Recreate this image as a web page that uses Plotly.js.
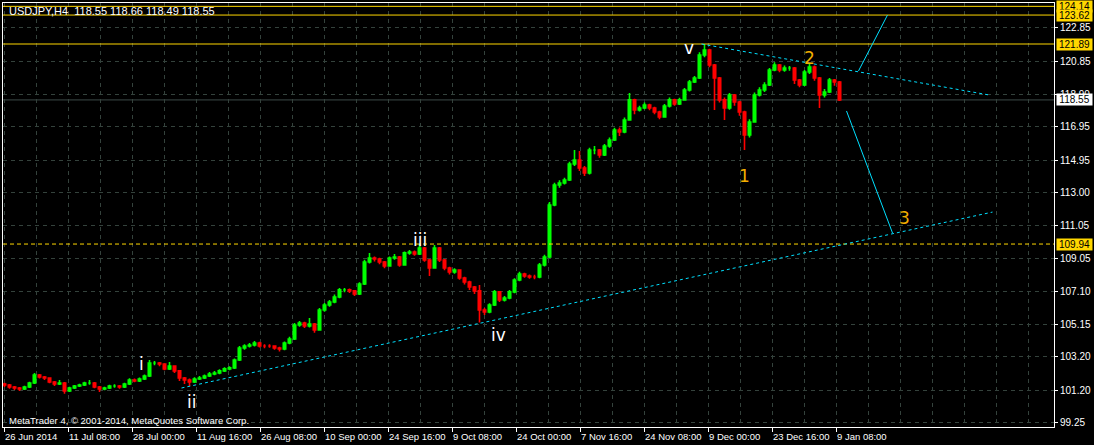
<!DOCTYPE html>
<html>
<head>
<meta charset="utf-8">
<script src="https://cdn.plot.ly/plotly-3.0.1.min.js"></script>
<style>
html,body{margin:0;padding:0;background:#000;}
#chart{width:1094px;height:445px;}
</style>
</head>
<body>
<div id="chart"></div>
<script>
// ---- data (H4 bars, one candle per 5 bars) ----
const bars = [0,5,10,15,20,25,30,35,40,45,50,55,60,65,70,75,80,85,90,95,
100,105,110,115,120,125,130,135,140,145,150,155,160,165,170,175,180,185,190,195,
200,205,210,215,220,225,230,235,240,245,250,255,260,265,270,275,280,285,290,295,
300,305,310,315,320,325,330,335,340,345,350,355,360,365,370,375,380,385,390,395,
400,405,410,415,420,425,430,435,440,445,450,455,460,465,470,475,480,485,490,495,
500,505,510,515,520,525,530,535,540,545,550,555,560,565,570,575,580,585,590,595,
600,605,610,615,620,625,630,635,640,645,650,655,660,665,670,675,680,685,690,695,
700,705,710,715,720,725,730,735,740,745,750,755,760,765,770,775,780,785,790,795,
800,805,810,815,820,825,830,835];

const closes = [101.52,101.40,101.34,101.28,101.40,101.64,102.12,102.00,101.94,101.70,
101.58,101.64,101.16,101.34,101.46,101.52,101.64,101.64,101.40,101.28,
101.34,101.46,101.46,101.40,101.58,101.82,101.76,101.88,102.06,102.83,
102.83,102.77,102.48,102.65,102.36,101.94,101.82,101.70,101.88,101.94,
102.06,102.18,102.24,102.36,102.48,102.54,103.01,103.73,103.85,103.91,
104.03,103.85,103.85,103.85,103.73,103.67,104.03,104.27,105.10,105.22,
105.04,105.16,104.81,106.00,106.30,106.48,106.78,107.20,107.20,107.14,
106.96,107.55,108.87,109.11,109.05,108.87,108.63,109.11,109.17,108.69,
109.41,109.46,109.35,109.70,108.99,108.51,109.70,108.99,108.51,108.27,
108.39,107.91,107.67,107.37,107.14,106.00,105.88,106.30,107.08,106.60,
106.72,107.08,107.79,108.15,108.03,107.97,107.97,108.69,109.17,112.27,
113.47,113.59,113.77,114.72,114.96,114.48,114.18,115.56,115.56,115.26,
115.80,116.16,116.75,116.63,117.35,118.55,117.95,118.07,118.25,118.07,
117.83,117.53,118.19,118.55,118.31,118.55,119.14,119.62,119.86,121.23,
121.53,120.64,119.86,118.55,118.07,118.84,118.43,117.83,116.45,117.23,
118.84,119.14,119.44,120.34,120.64,120.34,120.46,120.46,119.74,119.44,
120.22,120.52,119.86,118.84,119.02,119.74,119.62,118.55];

const opens = [101.58,101.52,101.40,101.34,101.28,101.40,101.64,102.12,102.00,101.94,
101.70,101.58,101.64,101.16,101.34,101.46,101.52,101.64,101.64,101.40,
101.28,101.34,101.46,101.46,101.40,101.58,101.82,101.76,101.88,102.06,
102.83,102.83,102.77,102.48,102.65,102.36,101.94,101.82,101.70,101.88,
101.94,102.06,102.18,102.24,102.36,102.48,102.54,103.01,103.73,103.85,
103.91,104.03,103.85,103.85,103.85,103.73,103.67,104.03,104.27,105.10,
105.22,105.04,105.16,104.81,106.00,106.30,106.48,106.78,107.20,107.20,
107.14,106.96,107.55,108.87,109.11,109.05,108.87,108.63,109.11,109.17,
108.69,109.41,109.46,109.35,109.70,108.99,108.51,109.70,108.99,108.51,
108.27,108.39,107.91,107.67,107.37,107.14,106.00,105.88,106.30,107.08,
106.60,106.72,107.08,107.79,108.15,108.03,107.97,107.97,108.69,109.17,
112.27,113.47,113.59,113.77,114.72,114.96,114.48,114.18,115.56,115.56,
115.26,115.80,116.16,116.75,116.63,117.35,118.55,117.95,118.07,118.25,
118.07,117.83,117.53,118.19,118.55,118.31,118.55,119.14,119.62,119.86,
121.23,121.53,120.64,119.86,118.55,118.07,118.84,118.43,117.83,116.45,
117.23,118.84,119.14,119.44,120.34,120.64,120.34,120.46,120.46,119.74,
119.44,120.22,120.52,119.86,118.84,119.02,119.74,119.62];

const highs = [101.66,101.58,101.46,101.40,101.48,101.72,102.24,102.18,102.06,101.98,
101.76,101.82,101.70,101.42,101.52,101.60,101.72,101.82,101.70,101.46,
101.42,101.54,101.56,101.52,101.66,101.92,101.90,101.96,102.14,103.01,
102.95,102.90,102.82,102.89,102.70,102.42,102.00,101.90,101.98,102.06,
102.14,102.30,102.36,102.46,102.58,102.64,103.10,103.85,103.95,104.03,
104.15,104.10,103.96,103.95,103.90,103.80,104.12,104.40,105.22,105.34,
105.30,105.52,105.22,106.12,106.42,106.60,106.92,107.32,107.32,107.28,
107.20,107.66,109.00,109.41,109.20,109.12,108.92,109.20,109.35,109.22,
109.50,109.58,109.55,109.94,109.76,109.04,109.88,109.76,109.04,108.58,
108.50,108.44,107.98,107.74,107.44,107.50,106.12,106.40,107.20,107.14,
106.84,107.20,107.90,108.28,108.22,108.12,108.10,108.80,109.30,112.45,
113.60,113.75,113.90,114.85,115.56,115.50,114.60,115.70,115.80,115.62,
115.92,116.30,116.88,116.90,117.50,118.96,118.62,118.20,118.40,118.32,
118.14,117.90,118.30,118.70,118.62,118.68,119.26,119.74,119.98,121.40,
121.89,121.60,120.70,119.92,118.70,118.96,118.90,118.50,117.90,117.40,
119.00,119.30,119.60,120.46,120.80,120.70,120.60,120.58,120.52,119.80,
120.34,120.76,120.60,119.92,119.20,119.86,119.80,119.68];

const lows = [101.40,101.30,101.22,101.16,101.22,101.34,101.58,101.90,101.82,101.62,
101.46,101.52,101.00,101.10,101.28,101.40,101.46,101.54,101.32,101.10,
101.20,101.28,101.36,101.30,101.34,101.52,101.68,101.70,101.82,102.00,
102.70,102.64,102.40,102.42,102.24,101.76,101.58,101.46,101.64,101.82,
101.88,102.00,102.10,102.16,102.30,102.40,102.48,102.95,103.62,103.76,
103.82,103.76,103.72,103.74,103.62,103.52,103.60,103.96,104.20,105.00,
104.92,104.96,104.64,104.76,105.90,106.20,106.40,106.70,107.06,107.02,
106.84,106.90,107.50,108.78,108.90,108.74,108.50,108.58,109.00,108.58,
108.64,109.30,109.24,109.28,108.88,108.03,108.46,108.86,108.38,108.12,
108.16,107.80,107.52,107.20,106.96,105.25,105.70,105.80,106.24,106.48,
106.50,106.64,107.00,107.72,107.92,107.86,107.84,107.90,108.60,109.10,
112.20,113.30,113.50,113.70,114.60,114.30,114.00,114.10,115.30,115.10,
115.20,115.70,116.10,116.40,116.56,117.30,117.70,117.86,118.00,117.94,
117.70,117.40,117.48,118.10,118.20,118.24,118.50,119.06,119.56,119.80,
121.10,120.50,117.95,118.40,117.35,117.96,118.20,117.60,115.56,116.30,
117.18,118.76,119.02,119.38,120.26,120.20,120.24,120.30,119.50,119.30,
119.38,120.10,119.70,118.07,118.70,118.96,119.40,118.49];

// x-axis labels (bar index of each label) and texts
const xLabelBars = [0,64,128,192,256,320,384,448,512,576,640,704,768,832];
const xLabels = ["26 Jun 2014","11 Jul 08:00","28 Jul 00:00","11 Aug 16:00","26 Aug 08:00",
  "10 Sep 00:00","24 Sep 16:00","9 Oct 08:00","24 Oct 00:00","7 Nov 16:00",
  "24 Nov 08:00","9 Dec 00:00","23 Dec 16:00","9 Jan 08:00"];
const xGridBars = [32,96,160,224,288,352,416,480,544,608,672,736,800,864,896,928,960,992,1024];

// y-axis ticks
const yTicks = [99.25,101.20,103.20,105.15,107.10,109.05,111.05,113.00,114.95,116.95,118.90,120.85,122.85];

// horizontal price levels
const goldLevels = [124.14,123.62,121.89];
const dashedLevel = 109.94;
const bidLevel = 118.55;

// trend / projection lines: [bar0, price0, bar1, price1]
const dottedLines = [[177,101.34,988,111.85],[697,121.89,985,118.84]];
const solidLines = [[854,120.28,883,123.62],[842,117.89,888,110.60]];

// wave labels
const waveText = ["i","ii","iii","iv","v"];
const waveBar = [137,187,415,494,684];
const wavePrice = [102.77,100.50,110.18,104.51,121.65];
const countText = ["1","2","3"];
const countBar = [740,805,900];
const countPrice = [114.01,121.05,111.50];

// ---- chart ----
const FONT = "Liberation Sans, Arial, sans-serif";
const GRID = "#34423c";
const GOLD = "#FFD700";
const CYAN = "#00E0FF";

const trace = {
  type: "candlestick",
  x: bars, open: opens, high: highs, low: lows, close: closes,
  increasing: {line: {color: "#00FF00", width: 1.6}, fillcolor: "#00FF00"},
  decreasing: {line: {color: "#FF0000", width: 1.6}, fillcolor: "#FF0000"},
  whiskerwidth: 0,
  hoverinfo: "skip",
  showlegend: false
};

const shapes = [];
shapes.push({type:"line", xref:"paper", x0:0, x1:1, yref:"y", y0:bidLevel, y1:bidLevel,
  line:{color:"#3c4a48", width:1}, layer:"below"});
goldLevels.forEach(v => shapes.push({type:"line", xref:"paper", x0:0, x1:1, yref:"y", y0:v, y1:v,
  line:{color:GOLD, width:1}}));
shapes.push({type:"line", xref:"paper", x0:0, x1:1, yref:"y", y0:dashedLevel, y1:dashedLevel,
  line:{color:GOLD, width:1, dash:"4px,3px"}});
dottedLines.forEach(l => shapes.push({type:"line", xref:"x", yref:"y", x0:l[0], y0:l[1], x1:l[2], y1:l[3],
  line:{color:CYAN, width:1, dash:"3px,3px"}}));
solidLines.forEach(l => shapes.push({type:"line", xref:"x", yref:"y", x0:l[0], y0:l[1], x1:l[2], y1:l[3],
  line:{color:CYAN, width:1}}));

const annotations = [];
annotations.push({xref:"paper", yref:"paper", x:0, y:1, xshift:4, yshift:-8, xanchor:"left", yanchor:"middle",
  text:"USDJPY,H4  118.55 118.66 118.49 118.55", showarrow:false, font:{family:FONT, size:11, color:"#ffffff"}});
annotations.push({xref:"paper", yref:"paper", x:0, y:0, xshift:4, yshift:7, xanchor:"left", yanchor:"middle",
  text:"MetaTrader 4, © 2001-2014, MetaQuotes Software Corp.", showarrow:false, font:{family:FONT, size:9.5, color:"#ffffff"}});
xLabelBars.forEach((b,i) => annotations.push({xref:"x", yref:"paper", x:b, y:0, yshift:-9, xanchor:"left", yanchor:"middle",
  xshift:-2, text:xLabels[i], showarrow:false, font:{family:FONT, size:9.5, color:"#ffffff"}}));
goldLevels.concat([dashedLevel]).forEach(v => annotations.push({xref:"paper", yref:"y", x:1, y:v, xanchor:"left", yanchor:"middle",
  xshift:2, text:v.toFixed(2), showarrow:false, bgcolor:GOLD, borderpad:0, width:35, height:11,
  font:{family:FONT, size:10, color:"#000000"}}));
annotations.push({xref:"paper", yref:"y", x:1, y:bidLevel, xanchor:"left", yanchor:"middle",
  xshift:2, text:bidLevel.toFixed(2), showarrow:false, bgcolor:"#ffffff", borderpad:0, width:35, height:11,
  font:{family:FONT, size:10, color:"#000000"}});
waveText.forEach((t,i) => annotations.push({xref:"x", yref:"y", x:waveBar[i], y:wavePrice[i], text:t, showarrow:false,
  xanchor:"center", yanchor:"middle", font:{family:"DejaVu Sans, sans-serif", size:17, color:"#ffffff"}}));
countText.forEach((t,i) => annotations.push({xref:"x", yref:"y", x:countBar[i], y:countPrice[i], text:t, showarrow:false,
  xanchor:"center", yanchor:"middle", font:{family:"DejaVu Sans, sans-serif", size:17, color:"#F2AE00"}}));

const layout = {
  width: 1094, height: 445,
  paper_bgcolor: "#000000", plot_bgcolor: "#000000",
  margin: {l:3, r:40, t:3, b:18},
  showlegend: false,
  xaxis: {
    range: [-1.5, 1049.5], rangeslider: {visible:false},
    showline: true, mirror: true, linecolor: "#ffffff", linewidth: 1,
    tickmode: "array", tickvals: xLabelBars, showticklabels: false,
    ticks: "outside", ticklen: 4, tickcolor: "#ffffff",
    showgrid: true, gridcolor: GRID, griddash: "4px,4px", gridwidth: 1,
    minor: {tickmode:"array", tickvals: xGridBars, showgrid: true, gridcolor: GRID, griddash: "4px,4px", ticks: ""},
    zeroline: false
  },
  yaxis: {
    range: [99.01, 124.34], side: "right",
    tickmode: "array", tickvals: yTicks, ticktext: yTicks.map(v => v.toFixed(2)),
    ticks: "outside", ticklen: 3, tickcolor: "#ffffff",
    tickfont: {family: FONT, size: 10, color: "#ffffff"},
    showgrid: true, gridcolor: GRID, griddash: "4px,4px", gridwidth: 1,
    showline: true, mirror: true, linecolor: "#ffffff", linewidth: 1,
    zeroline: false
  },
  shapes: shapes,
  annotations: annotations
};

Plotly.newPlot("chart", [trace], layout, {staticPlot: true, displayModeBar: false});
</script>
</body>
</html>
